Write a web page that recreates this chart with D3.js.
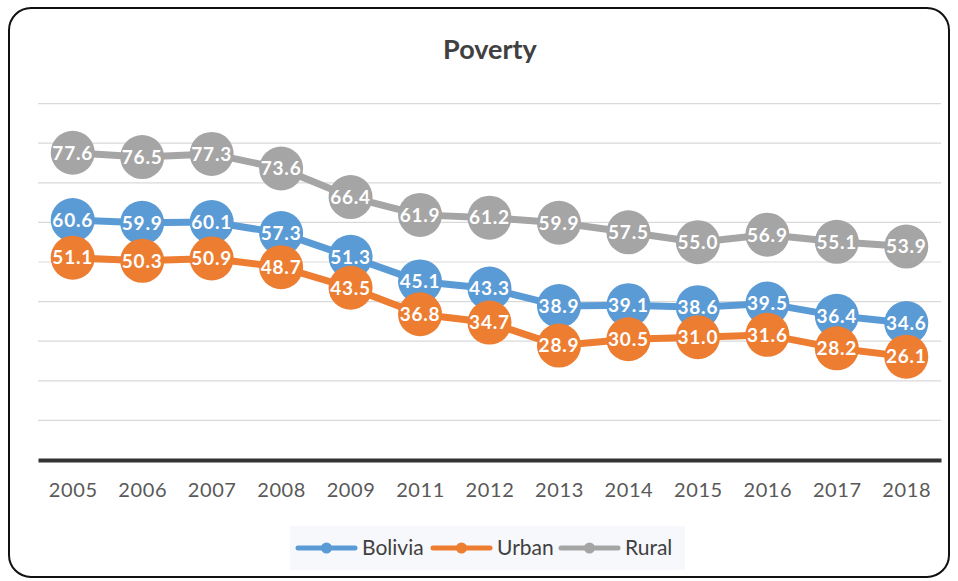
<!DOCTYPE html>
<html><head><meta charset="utf-8">
<script src="https://cdn.jsdelivr.net/npm/d3@7"></script>
<style>body{margin:0;background:#fff}svg{display:block}</style>
</head><body><svg id="c" width="958" height="581"></svg>
<script>
const years = ["2005","2006","2007","2008","2009","2011","2012","2013","2014","2015","2016","2017","2018"];
const bolivia = [60.6,59.9,60.1,57.3,51.3,45.1,43.3,38.9,39.1,38.6,39.5,36.4,34.6];
const urban = [51.1,50.3,50.9,48.7,43.5,36.8,34.7,28.9,30.5,31.0,31.6,28.2,26.1];
const rural = [77.6,76.5,77.3,73.6,66.4,61.9,61.2,59.9,57.5,55.0,56.9,55.1,53.9];
const seriesNames = ["Bolivia","Urban","Rural"];
const colors = ["#5B9BD5","#ED7D31","#A5A5A5"];
const yTicks = [10,20,30,40,50,60,70,80,90];
const title = "Poverty";

const svg = d3.select("#c");
const font = "Lato, 'Open Sans', sans-serif";
svg.append("rect").attr("x",9).attr("y",8).attr("width",940).attr("height",569)
  .attr("rx",22).attr("fill","#fff").attr("stroke","#111").attr("stroke-width",2);

const x = d3.scalePoint().domain(years).range([38,941]).padding(0.5);
const y = d3.scaleLinear().domain([0,90]).range([460,103.6]);

svg.append("text").attr("x",490).attr("y",59).attr("text-anchor","middle")
  .attr("font-family",font).attr("font-weight","bold").attr("font-size",27)
  .attr("fill","#404040").text(title);

svg.append("g").selectAll("line").data(yTicks).join("line")
  .attr("x1",38).attr("x2",941).attr("y1",d=>y(d)).attr("y2",d=>y(d))
  .attr("stroke","#d9d9d9").attr("stroke-width",1.2);

const xAxis = svg.append("g").attr("transform","translate(0,460)")
  .call(d3.axisBottom(x).tickSize(0).tickPadding(23));
xAxis.select(".domain").attr("stroke","#333").attr("stroke-width",4);
xAxis.selectAll("text").attr("font-family",font).attr("font-size",20)
  .attr("letter-spacing",0.6).attr("fill","#595959");

const data = [bolivia,urban,rural];
const order = [2,0,1];
const line = d3.line().x((d,i)=>x(years[i])).y(d=>y(d));
order.forEach(s=>{
  svg.append("path").datum(data[s]).attr("d",line).attr("fill","none")
    .attr("stroke",colors[s]).attr("stroke-width",7).attr("stroke-linejoin","round");
});
order.forEach(s=>{
  const g = svg.append("g");
  g.selectAll("circle").data(data[s]).join("circle")
    .attr("cx",(d,i)=>x(years[i])).attr("cy",d=>y(d)).attr("r",22).attr("fill",colors[s]);
  g.selectAll("text").data(data[s]).join("text")
    .attr("x",(d,i)=>x(years[i])).attr("y",d=>y(d)).attr("dy","0.36em")
    .attr("text-anchor","middle").attr("font-family",font).attr("font-weight","bold")
    .attr("font-size",19).attr("letter-spacing",0.8).attr("fill","#fff").text(d=>d.toFixed(1));
});

// legend
svg.append("rect").attr("x",290).attr("y",526).attr("width",395).attr("height",44).attr("fill","#f6f8fb");
const legX = [298,433,561];
const lg = svg.append("g");
seriesNames.forEach((n,i)=>{
  const g = lg.append("g").attr("transform",`translate(${legX[i]},548)`);
  g.append("line").attr("x1",0).attr("x2",57).attr("stroke",colors[i]).attr("stroke-width",5).attr("stroke-linecap","round");
  g.append("circle").attr("cx",28.5).attr("r",5.5).attr("fill",colors[i]);
  g.append("text").attr("x",64).attr("dy","0.35em").attr("font-family",font)
    .attr("font-size",21).attr("fill","#404040").text(n);
});
</script></body></html>
